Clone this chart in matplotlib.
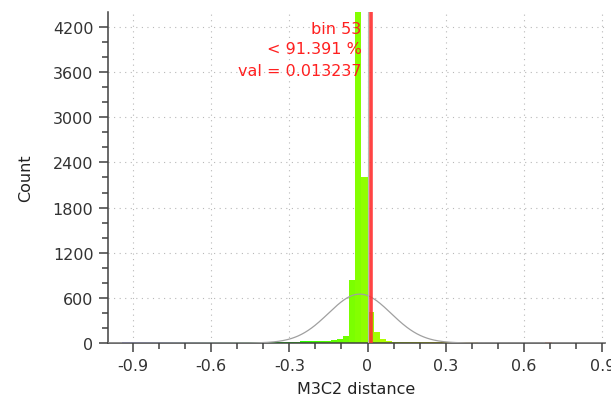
import numpy as np
import matplotlib
matplotlib.use("Agg")
import matplotlib.pyplot as plt
from matplotlib.colors import LinearSegmentedColormap, Normalize
from matplotlib.ticker import MultipleLocator, FixedLocator, FixedFormatter

plt.rcParams['axes.unicode_minus'] = False
plt.rcParams['font.family'] = ['DejaVu Sans']

# ---------------- data ----------------
bin_start = -0.94
bin_width = 0.0235
counts = [
    11, 12, 14, 10, 9, 11, 8, 7, 9, 8,
    10, 9, 8, 10, 12, 11, 9, 10, 12, 13,
    12, 14, 15, 14, 16, 15, 17, 18, 18, 20,
    20, 22, 24, 28, 35, 55, 95, 840, 5300, 2200,
    410, 145, 55, 25, 18, 14, 12, 11, 10, 10,
    9, 9, 8, 8, 8, 7, 7, 7, 6, 6,
    6, 6, 5, 5, 6, 5, 5, 6, 6, 7,
    6, 5, 6, 5, 4, 4,
]
gauss_mean = -0.03
gauss_sigma = 0.12
gauss_peak = 650
marker_value = 0.013237
marker_lines = ["bin 53", "< 91.391 %", "val = 0.013237"]
x_ticks = [-0.9, -0.6, -0.3, 0.0, 0.3, 0.6, 0.9]
x_tick_labels = ["-0.9", "-0.6", "-0.3", "0", "0.3", "0.6", "0.9"]
y_ticks = [0, 600, 1200, 1800, 2400, 3000, 3600, 4200]
y_tick_labels = ["0", "600", "1200", "1800", "2400", "3000", "3600", "4200"]
x_label = "M3C2 distance"
y_label = "Count"

# ---------------- figure ----------------
W, H = 611, 410
fig = plt.figure(figsize=(W / 100, H / 100), dpi=100)
left, right, bottom, top = 108, 605, 344, 13.3
ax = fig.add_axes([left / W, 1 - bottom / H, (right - left) / W, (bottom - top) / H])

n = len(counts)
edges = bin_start + bin_width * np.arange(n + 1)
lefts = edges[:-1]
centers = lefts + bin_width / 2

cmap = LinearSegmentedColormap.from_list(
    "bgyr", [(0, 0, 1), (0, 1, 0), (1, 1, 0), (1, 0, 0)])
norm = Normalize(vmin=edges[0], vmax=edges[-1])
colors = cmap(norm(centers))

ax.bar(lefts, counts, width=bin_width, align='edge', color=colors,
       linewidth=0, zorder=2)

# gaussian fit curve
gx = np.linspace(-1.0, 0.92, 600)
gy = gauss_peak * np.exp(-0.5 * ((gx - gauss_mean) / gauss_sigma) ** 2)
ax.plot(gx, gy, color='#a0a0a0', lw=0.9, zorder=3)

# marker lines
ax.axvline(0.0, color='#b8b8b8', lw=0.8, zorder=4)
ax.axvline(marker_value, color='#ff3030', lw=2.6, alpha=0.9, zorder=5)

offsets = [12.0, 26.4, 42.2]
for txt, dy in zip(marker_lines, offsets):
    ax.annotate(txt, xy=(marker_value, 1.0), xycoords=('data', 'axes fraction'),
                xytext=(-6.8, -dy), textcoords='offset points',
                ha='right', va='center', color='#ff2020', fontsize=11.5,
                zorder=6)

ax.set_xlim(-0.9946, 0.910)
ax.set_ylim(0, 4395)

ax.xaxis.set_major_locator(FixedLocator(x_ticks))
ax.xaxis.set_major_formatter(FixedFormatter(x_tick_labels))
ax.xaxis.set_minor_locator(MultipleLocator(0.1))
ax.yaxis.set_major_locator(FixedLocator(y_ticks))
ax.yaxis.set_major_formatter(FixedFormatter(y_tick_labels))
ax.yaxis.set_minor_locator(MultipleLocator(200))

for s in ['top', 'right']:
    ax.spines[s].set_visible(False)
for s in ['left', 'bottom']:
    ax.spines[s].set_color('#404040')
    ax.spines[s].set_linewidth(1.1)

ax.tick_params(which='major', length=6.5, width=1.1, color='#404040',
               labelsize=11.5, labelcolor='#333333', pad=4)
ax.tick_params(which='minor', length=4.3, width=1.1, color='#404040')

ax.grid(True, which='major', color='#b8b8b8', linewidth=0.8,
        linestyle=(0, (1, 4)), zorder=0)
ax.set_axisbelow(True)

ax.set_xlabel(x_label, fontsize=11.5, color='#222222', labelpad=6)
ax.set_ylabel(y_label, fontsize=11.5, color='#222222', labelpad=14)

fig.savefig("out.png", dpi=100)
